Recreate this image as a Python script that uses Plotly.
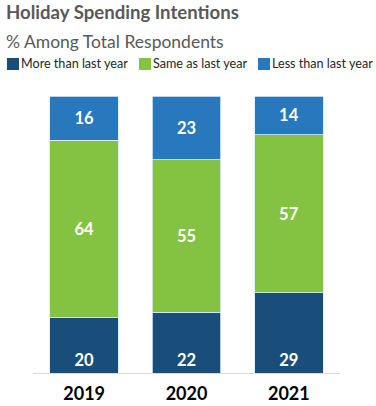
import plotly.graph_objects as go

years = ["2019", "2020", "2021"]
series_names = ["More than last year", "Same as last year", "Less than last year"]
more_vals = [20, 22, 29]
same_vals = [64, 55, 57]
less_vals = [16, 23, 14]
colors = ["#1A4E7A", "#84C341", "#2878BE"]

FONT = "Lato"
L, R, T, B = 33, 36, 96, 33
W, H = 376, 406
PW, PH = W - L - R, H - T - B

fig = go.Figure()
for name, vals, col, anchor in zip(series_names, [more_vals, same_vals, less_vals], colors,
                                   ["start", "middle", "middle"]):
    fig.add_trace(go.Bar(
        x=years, y=vals, name=name, marker=dict(color=col, line=dict(color="#DDEBF7", width=0.8)),
        text=[str(v) for v in vals], textposition="inside", insidetextanchor=anchor,
        textfont=dict(family=FONT, size=16.5, color="white", weight="bold"),
        width=0.67, showlegend=False, hoverinfo="skip",
    ))

fig.update_layout(
    barmode="stack",
    width=W, height=H,
    margin=dict(l=L, r=R, t=T, b=B, autoexpand=False),
    paper_bgcolor="white", plot_bgcolor="white",
    xaxis=dict(showline=True, linecolor="#D9D9D9", linewidth=1, ticks="", ticklabelstandoff=4,
               automargin=False,
               tickfont=dict(family=FONT, size=18, color="#000000", weight="bold")),
    yaxis=dict(range=[0, 100], visible=False, automargin=False),
    font=dict(family=FONT),
)

def px(xp):
    return (xp - L) / PW

def py(yp):
    return 1 + (T - yp) / PH

fig.add_annotation(text="<b>Holiday Spending Intentions</b>", xref="paper", yref="paper",
                   x=px(4), y=py(12), xanchor="left", yanchor="middle", showarrow=False,
                   font=dict(family=FONT, size=18.6, color="#595959"))
fig.add_annotation(text="% Among Total Respondents", xref="paper", yref="paper",
                   x=px(4), y=py(42), xanchor="left", yanchor="middle", showarrow=False,
                   font=dict(family=FONT, size=17.5, color="#595959"))

# manual legend
leg_x = [7, 139, 258]
for name, col, lx in zip(series_names, colors, leg_x):
    fig.add_shape(type="rect", xref="paper", yref="paper",
                  x0=px(lx), x1=px(lx + 12),
                  y0=py(70), y1=py(58),
                  fillcolor=col, line=dict(width=0))
    fig.add_annotation(text=name, xref="paper", yref="paper",
                       x=px(lx + 12), y=py(64), xanchor="left", yanchor="middle",
                       showarrow=False, font=dict(family=FONT, size=12.6, color="#262626"))

fig.write_html("out.html", config={"displayModeBar": False},
               post_script="document.body.style.margin='0';")
